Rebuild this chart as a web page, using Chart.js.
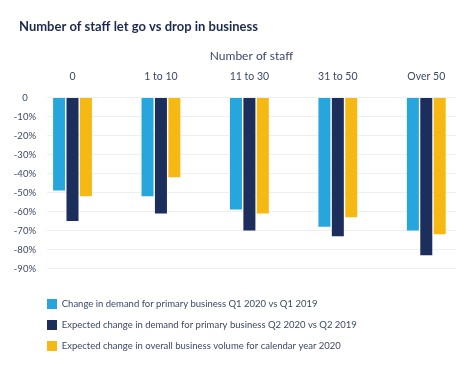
<!DOCTYPE html>
<html>
<head>
<meta charset="utf-8">
<script src="https://cdn.jsdelivr.net/npm/chart.js@4/dist/chart.umd.min.js"></script>
<style>
html,body{margin:0;padding:0;background:#fff;}
#wrap{width:474px;height:368px;}
</style>
</head>
<body>
<div id="wrap"><canvas id="c" width="474" height="368"></canvas></div>
<script>
const categories = ['0', '1 to 10', '11 to 30', '31 to 50', 'Over 50'];
const seriesNames = [
  'Change in demand for primary business Q1 2020 vs Q1 2019',
  'Expected change in demand for primary business Q2 2020 vs Q2 2019',
  'Expected change in overall business volume for calendar year 2020'
];
const q1Change = [-49, -52, -59, -68, -70];
const q2Expected = [-65, -61, -70, -73, -83];
const yearExpected = [-52, -42, -61, -63, -72];
const yTicks = [0, -10, -20, -30, -40, -50, -60, -70, -80, -90];
const seriesColors = ['#27a6de', '#1c2f5c', '#f6b913'];

const seriesValues = [q1Change, q2Expected, yearExpected];
const datasets = seriesValues.map((vals, s) => ({
  label: seriesNames[s],
  data: vals.map((v, i) => ({x: i, y: v})),
  backgroundColor: seriesColors[s],
  borderWidth: 0,
  categoryPercentage: 0.455,
  barPercentage: 0.895
}));

const FONT = 'Lato, "Noto Sans", sans-serif';
const TXT = '#3b4868';

const shiftBoxes = {
  id: 'shiftBoxes',
  afterLayout(chart) {
    const l = chart.legend;
    if (l) { l.left += 17; l.right += 17; }
    if (chart.scales.y) { chart.scales.y.left = 0; }
  }
};

new Chart(document.getElementById('c'), {
  type: 'bar',
  data: { datasets },
  plugins: [shiftBoxes],
  options: {
    responsive: false,
    animation: false,
    layout: { padding: { left: 19, right: 18, top: 0, bottom: 7 } },
    plugins: {
      tooltip: { enabled: false },
      title: {
        display: true,
        text: 'Number of staff let go vs drop in business',
        align: 'start',
        color: '#1b2a4e',
        font: { family: FONT, size: 13, weight: 'bold' },
        padding: { top: 19, bottom: 0 }
      },
      legend: {
        position: 'bottom',
        align: 'start',
        title: { display: true, text: ' ', font: { size: 10 }, padding: { top: 7.5, bottom: 0 } },
        labels: {
          boxWidth: 10,
          boxHeight: 10,
          padding: 11,
          color: TXT,
          font: { family: FONT, size: 9.5 }
        }
      }
    },
    scales: {
      x: {
        type: 'linear',
        position: 'top',
        offset: false,
        min: -0.2883,
        max: 4.336,
        afterBuildTicks(scale) {
          scale.ticks = categories.map((c, i) => ({ value: i }));
        },
        afterFit(scale) { scale.height = 97.5 - 34.6; },
        grid: { display: false, drawTicks: false },
        border: { display: false },
        ticks: {
          autoSkip: false,
          maxRotation: 0,
          padding: 14.2,
          color: TXT,
          font: { family: FONT, size: 10.5 },
          callback: (v) => categories[v] ?? ''
        },
        title: {
          display: true,
          text: 'Number of staff',
          color: TXT,
          font: { family: FONT, size: 12 },
          padding: { top: 14, bottom: 0 }
        }
      },
      y: {
        min: -90,
        max: 0,
        afterBuildTicks(scale) {
          scale.ticks = yTicks.map(v => ({ value: v }));
        },
        afterFit(scale) { scale.width = 28; },
        grid: { color: '#eceff3', drawTicks: false },
        border: { display: false },
        ticks: {
          padding: 11,
          crossAlign: 'center',
          color: TXT,
          font: { family: FONT, size: 9.5 },
          callback: (v) => v === 0 ? '0' : v + '%'
        }
      }
    }
  }
});
</script>
</body>
</html>
